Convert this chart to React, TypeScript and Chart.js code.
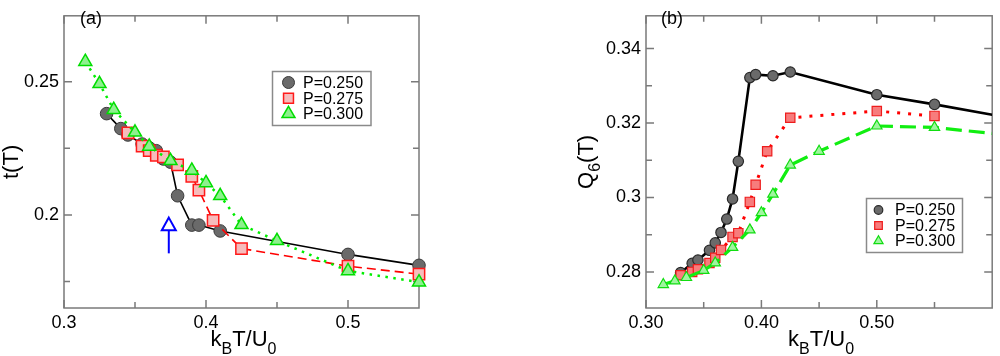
import React, { useEffect, useRef } from 'react';
import { Chart, registerables } from 'chart.js';

Chart.register(...registerables);

const FONT = '"Liberation Sans", Arial, Helvetica, sans-serif';

// ---------------- Panel (a): t(T) ----------------
const aTempP250 = [0.330, 0.340, 0.345, 0.355, 0.360, 0.365, 0.370, 0.375, 0.380, 0.390, 0.395, 0.410, 0.500, 0.550];
const aTP250 = [0.2380, 0.2324, 0.2300, 0.2266, 0.2252, 0.2241, 0.2210, 0.2198, 0.2072, 0.1962, 0.1962, 0.1940, 0.1852, 0.1811];

const aTempP275 = [0.345, 0.355, 0.360, 0.365, 0.370, 0.380, 0.390, 0.395, 0.405, 0.425, 0.500, 0.550];
const aTP275 = [0.2308, 0.2258, 0.2241, 0.2224, 0.2218, 0.2188, 0.2145, 0.2093, 0.1980, 0.1874, 0.1808, 0.1778];

const aTempP300 = [0.315, 0.325, 0.335, 0.350, 0.360, 0.375, 0.390, 0.400, 0.410, 0.425, 0.450, 0.500, 0.550];
const aTP300 = [0.2575, 0.2492, 0.2395, 0.2310, 0.2257, 0.2203, 0.2167, 0.2120, 0.2072, 0.1963, 0.1903, 0.1790, 0.1748];

// ---------------- Panel (b): Q6(T) ----------------
const bTempP250 = [0.330, 0.340, 0.345, 0.355, 0.360, 0.365, 0.370, 0.375, 0.380, 0.390, 0.395, 0.410, 0.425, 0.500, 0.550, 0.600];
const bQP250 = [0.2798, 0.2823, 0.2832, 0.2858, 0.2878, 0.2906, 0.2942, 0.2996, 0.3097, 0.3322, 0.3330, 0.3327, 0.3337, 0.3276, 0.3250, 0.3222];

const bTempP275 = [0.330, 0.340, 0.345, 0.355, 0.360, 0.365, 0.375, 0.380, 0.390, 0.395, 0.405, 0.425, 0.500, 0.550];
const bQP275 = [0.2791, 0.2800, 0.2807, 0.2824, 0.2838, 0.2859, 0.2894, 0.2904, 0.2988, 0.3034, 0.3124, 0.3214, 0.3232, 0.3219];

const bTempP300 = [0.315, 0.325, 0.335, 0.350, 0.360, 0.375, 0.390, 0.400, 0.410, 0.425, 0.450, 0.500, 0.550, 0.600];
const bQP300 = [0.2766, 0.2776, 0.2785, 0.2804, 0.2824, 0.2866, 0.2913, 0.2959, 0.3009, 0.3087, 0.3124, 0.3192, 0.3188, 0.3172];

const seriesLabels = ['P=0.250', 'P=0.275', 'P=0.300'];

// ---------------- Axes / ticks ----------------
const aXRange = [0.3, 0.55];
const aYRange = [0.1651, 0.2747];
const aXTicks = [0.3, 0.4, 0.5];
const aXTickLabels = ['0.3', '0.4', '0.5'];
const aXMinor = [0.35, 0.45];
const aYTicks = [0.2, 0.25];
const aYTickLabels = ['0.2', '0.25'];
const aYMinor = [0.175, 0.225];

const bXRange = [0.3, 0.6];
const bYRange = [0.2703, 0.3488];
const bXTicks = [0.3, 0.4, 0.5];
const bXTickLabels = ['0.30', '0.40', '0.50'];
const bXMinor = [0.35, 0.45, 0.55];
const bYTicks = [0.28, 0.3, 0.32, 0.34];
const bYTickLabels = ['0.28', '0.3', '0.32', '0.34'];
const bYMinor = [0.29, 0.31, 0.33];

// arrow annotation in panel (a) (data coords)
const arrowX = 0.3738;
const arrowTipY = 0.1990;
const arrowBaseY = 0.1943;
const arrowTailY = 0.1856;

type Part = { t: string; sub?: boolean };
type Style = 'circle' | 'rect' | 'triangle';

interface SeriesSpec {
  label: string;
  x: number[];
  y: number[];
  line: string;
  width: number;
  dash: number[];
  cap?: CanvasLineCap;
  style: Style;
  radius: number;
  fill: string;
  stroke: string;
  pbw: number;
  order: number;
  hideLast?: boolean;
  legendR: number;
}

interface PanelSpec {
  series: SeriesSpec[];
  xRange: number[];
  yRange: number[];
  xTicks: number[];
  xTickLabels: string[];
  xMinor: number[];
  yTicks: number[];
  yTickLabels: string[];
  yMinor: number[];
  yAxisWidth: number;
  padRight: number;
  clip: boolean;
  panelLabel: string;
  panelLabelX: number;
  yTitle: Part[];
  yTitleX: number;
  legendBox: number[]; // x, y, w, h (canvas px)
  legendMarkerX: number;
  legendTextX: number;
  legendRows: number[];
  arrow?: boolean;
}

function drawMarker(ctx: CanvasRenderingContext2D, style: Style, x: number, y: number, r: number, fill: string, stroke: string, lw: number) {
  ctx.save();
  ctx.beginPath();
  if (style === 'circle') ctx.arc(x, y, r, 0, Math.PI * 2);
  else if (style === 'rect') {
    const h = r * Math.SQRT1_2;
    ctx.rect(x - h, y - h, 2 * h, 2 * h);
  } else {
    const c = Math.cos(Math.PI / 6) * r;
    ctx.moveTo(x, y - r);
    ctx.lineTo(x + c, y + r / 2);
    ctx.lineTo(x - c, y + r / 2);
    ctx.closePath();
  }
  ctx.fillStyle = fill;
  ctx.fill();
  ctx.lineWidth = lw;
  ctx.strokeStyle = stroke;
  ctx.stroke();
  ctx.restore();
}

function drawRich(ctx: CanvasRenderingContext2D, parts: Part[], x: number, y: number, main: number, sub: number, subOff: number) {
  const widths = parts.map((p) => {
    ctx.font = `${p.sub ? sub : main}px ${FONT}`;
    return ctx.measureText(p.t).width;
  });
  const total = widths.reduce((a, b) => a + b, 0);
  let cx = x - total / 2;
  ctx.textAlign = 'left';
  ctx.textBaseline = 'alphabetic';
  parts.forEach((p, i) => {
    ctx.font = `${p.sub ? sub : main}px ${FONT}`;
    ctx.fillText(p.t, cx, y + (p.sub ? subOff : 0));
    cx += widths[i];
  });
}

const xTitle: Part[] = [{ t: 'k' }, { t: 'B', sub: true }, { t: 'T/U' }, { t: '0', sub: true }];

function panelPlugin(p: PanelSpec) {
  return {
    id: 'panelDecor',
    beforeDatasetsDraw(chart: any) {
      const ctx: CanvasRenderingContext2D = chart.ctx;
      const a = chart.chartArea;
      const xs = chart.scales.x;
      const ys = chart.scales.y;
      ctx.save();
      ctx.strokeStyle = '#7a7a7a';
      ctx.lineWidth = 1.5;
      ctx.strokeRect(a.left, a.top, a.right - a.left, a.bottom - a.top);
      const tick = (vals: number[], len: number) => {
        vals.forEach((v) => {
          const px = xs.getPixelForValue(v);
          ctx.beginPath();
          ctx.moveTo(px, a.bottom);
          ctx.lineTo(px, a.bottom - len);
          ctx.moveTo(px, a.top);
          ctx.lineTo(px, a.top + len);
          ctx.stroke();
        });
      };
      const tickY = (vals: number[], len: number) => {
        vals.forEach((v) => {
          const py = ys.getPixelForValue(v);
          ctx.beginPath();
          ctx.moveTo(a.left, py);
          ctx.lineTo(a.left + len, py);
          ctx.moveTo(a.right, py);
          ctx.lineTo(a.right - len, py);
          ctx.stroke();
        });
      };
      tick(p.xTicks, 8);
      tick(p.xMinor, 6);
      tickY(p.yTicks, 8);
      tickY(p.yMinor, 6);
      ctx.restore();
    },
    afterDraw(chart: any) {
      const ctx: CanvasRenderingContext2D = chart.ctx;
      const a = chart.chartArea;
      const xs = chart.scales.x;
      const ys = chart.scales.y;
      ctx.save();
      ctx.fillStyle = '#000';
      // panel label
      ctx.font = `18px ${FONT}`;
      ctx.textAlign = 'left';
      ctx.textBaseline = 'alphabetic';
      ctx.fillText(p.panelLabel, p.panelLabelX, 24);
      // x title
      drawRich(ctx, xTitle, (a.left + a.right) / 2 + 2, 346, 22, 16, 8);
      // y title
      ctx.save();
      ctx.translate(p.yTitleX, (a.top + a.bottom) / 2);
      ctx.rotate(-Math.PI / 2);
      drawRich(ctx, p.yTitle, 0, 0, 22, 16, 7);
      ctx.restore();
      // legend
      const [lx, ly, lw, lh] = p.legendBox;
      ctx.fillStyle = '#fff';
      ctx.fillRect(lx, ly, lw, lh);
      ctx.strokeStyle = '#8a8a8a';
      ctx.lineWidth = 1.5;
      ctx.strokeRect(lx, ly, lw, lh);
      p.series.forEach((s, i) => {
        const ry = p.legendRows[i];
        drawMarker(ctx, s.style, p.legendMarkerX, ry, s.legendR, s.fill, s.stroke, s.pbw);
        ctx.fillStyle = '#000';
        ctx.font = `16px ${FONT}`;
        ctx.textAlign = 'left';
        ctx.textBaseline = 'middle';
        ctx.fillText(s.label, p.legendTextX, ry + 1);
      });
      // arrow
      if (p.arrow) {
        const ax = xs.getPixelForValue(arrowX);
        const tip = ys.getPixelForValue(arrowTipY);
        const base = ys.getPixelForValue(arrowBaseY);
        const tail = ys.getPixelForValue(arrowTailY);
        ctx.strokeStyle = '#0000ff';
        ctx.lineWidth = 2;
        ctx.beginPath();
        ctx.moveTo(ax, base);
        ctx.lineTo(ax, tail);
        ctx.stroke();
        ctx.beginPath();
        ctx.moveTo(ax, tip);
        ctx.lineTo(ax + 7, base);
        ctx.lineTo(ax - 7, base);
        ctx.closePath();
        ctx.stroke();
      }
      ctx.restore();
    },
  };
}

function labelFor(vals: number[], labels: string[]) {
  return (v: any) => {
    const i = vals.findIndex((t) => Math.abs(t - Number(v)) < 1e-9);
    return i >= 0 ? labels[i] : '';
  };
}

function makeConfig(p: PanelSpec): any {
  return {
    type: 'line',
    data: {
      datasets: p.series.map((s) => ({
        label: s.label,
        data: s.x.map((x, i) => ({ x, y: s.y[i] })),
        borderColor: s.line,
        borderWidth: s.width,
        borderDash: s.dash,
        borderCapStyle: s.cap || 'butt',
        pointStyle: s.style,
        pointRadius: s.x.map((_, i) => (s.hideLast && i === s.x.length - 1 ? 0 : s.radius)),
        pointBackgroundColor: s.fill,
        pointBorderColor: s.stroke,
        pointBorderWidth: s.pbw,
        pointHoverRadius: s.radius,
        tension: 0,
        fill: false,
        order: s.order,
        clip: p.clip ? undefined : false,
      })),
    },
    options: {
      animation: false,
      responsive: false,
      maintainAspectRatio: false,
      events: [],
      layout: { padding: { top: 1, right: p.padRight, left: 0, bottom: 0 } },
      plugins: { legend: { display: false }, tooltip: { enabled: false } },
      scales: {
        x: {
          type: 'linear',
          min: p.xRange[0],
          max: p.xRange[1],
          afterFit: (s: any) => {
            s.height = 48;
          },
          afterBuildTicks: (s: any) => {
            s.ticks = p.xTicks.map((v) => ({ value: v }));
          },
          ticks: {
            callback: labelFor(p.xTicks, p.xTickLabels),
            font: { family: FONT, size: 18 },
            color: '#000',
            padding: 4,
            maxRotation: 0,
            autoSkip: false,
          },
          grid: { display: false, drawTicks: false },
          border: { display: false },
        },
        y: {
          type: 'linear',
          min: p.yRange[0],
          max: p.yRange[1],
          afterFit: (s: any) => {
            s.width = p.yAxisWidth;
          },
          afterBuildTicks: (s: any) => {
            s.ticks = p.yTicks.map((v) => ({ value: v }));
          },
          ticks: {
            callback: labelFor(p.yTicks, p.yTickLabels),
            font: { family: FONT, size: 18 },
            color: '#000',
            padding: 5,
            autoSkip: false,
          },
          grid: { display: false, drawTicks: false },
          border: { display: false },
        },
      },
    },
    plugins: [panelPlugin(p)],
  };
}

const panelA: PanelSpec = {
  series: [
    { label: seriesLabels[0], x: aTempP250, y: aTP250, line: '#000000', width: 1.6, dash: [], style: 'circle', radius: 6.3, fill: '#6a6a6a', stroke: '#3a3a3a', pbw: 1, order: 2, legendR: 6 },
    { label: seriesLabels[1], x: aTempP275, y: aTP275, line: '#ff0000', width: 1.6, dash: [9, 5], style: 'rect', radius: 8, fill: '#f6bcbc', stroke: '#ff1a1a', pbw: 1.5, order: 1, legendR: 7 },
    { label: seriesLabels[2], x: aTempP300, y: aTP300, line: '#00ee00', width: 2.5, dash: [2.5, 5.5], style: 'triangle', radius: 7.5, fill: '#8ef08e', stroke: '#00dd00', pbw: 1.5, order: 0, legendR: 7.5 },
  ],
  xRange: aXRange,
  yRange: aYRange,
  xTicks: aXTicks,
  xTickLabels: aXTickLabels,
  xMinor: aXMinor,
  yTicks: aYTicks,
  yTickLabels: aYTickLabels,
  yMinor: aYMinor,
  yAxisWidth: 64,
  padRight: 81,
  clip: false,
  panelLabel: '(a)',
  panelLabelX: 80,
  yTitle: [{ t: 't(T)' }],
  yTitleX: 18,
  legendBox: [272.5, 71.5, 98.5, 54],
  legendMarkerX: 288.5,
  legendTextX: 303,
  legendRows: [82.5, 98.3, 113.8],
  arrow: true,
};

const panelB: PanelSpec = {
  series: [
    { label: seriesLabels[0], x: bTempP250, y: bQP250, line: '#000000', width: 2.6, dash: [], style: 'circle', radius: 5.2, fill: '#6a6a6a', stroke: '#2a2a2a', pbw: 1.2, order: 2, hideLast: true, legendR: 4.3 },
    { label: seriesLabels[1], x: bTempP275, y: bQP275, line: '#ff0000', width: 3, dash: [3, 8], style: 'rect', radius: 6.6, fill: '#f77c7c', stroke: '#ee1c1c', pbw: 1.2, order: 1, legendR: 5.4 },
    { label: seriesLabels[2], x: bTempP300, y: bQP300, line: '#11ee11', width: 3.2, dash: [16, 7], style: 'triangle', radius: 6, fill: '#9ff59f', stroke: '#11dd11', pbw: 1.2, order: 0, hideLast: true, legendR: 5.3 },
  ],
  xRange: bXRange,
  yRange: bYRange,
  xTicks: bXTicks,
  xTickLabels: bXTickLabels,
  xMinor: bXMinor,
  yTicks: bYTicks,
  yTickLabels: bYTickLabels,
  yMinor: bYMinor,
  yAxisWidth: 146,
  padRight: 0,
  clip: true,
  panelLabel: '(b)',
  panelLabelX: 161,
  yTitle: [{ t: 'Q' }, { t: '6', sub: true }, { t: '(T)' }],
  yTitleX: 93,
  legendBox: [366.5, 198.5, 96, 54],
  legendMarkerX: 378.5,
  legendTextX: 395,
  legendRows: [210, 225.5, 241],
};

function Panel({ spec }: { spec: PanelSpec }) {
  const ref = useRef<HTMLCanvasElement | null>(null);
  useEffect(() => {
    if (!ref.current) return;
    const chart = new Chart(ref.current, makeConfig(spec));
    return () => chart.destroy();
  }, [spec]);
  return <canvas ref={ref} width={500} height={356} style={{ display: 'block', width: 500, height: 356 }} />;
}

export default function App() {
  return (
    <div style={{ position: 'fixed', left: 0, top: 0, width: 1000, height: 356, display: 'flex', background: '#fff' }}>
      <Panel spec={panelA} />
      <Panel spec={panelB} />
    </div>
  );
}
